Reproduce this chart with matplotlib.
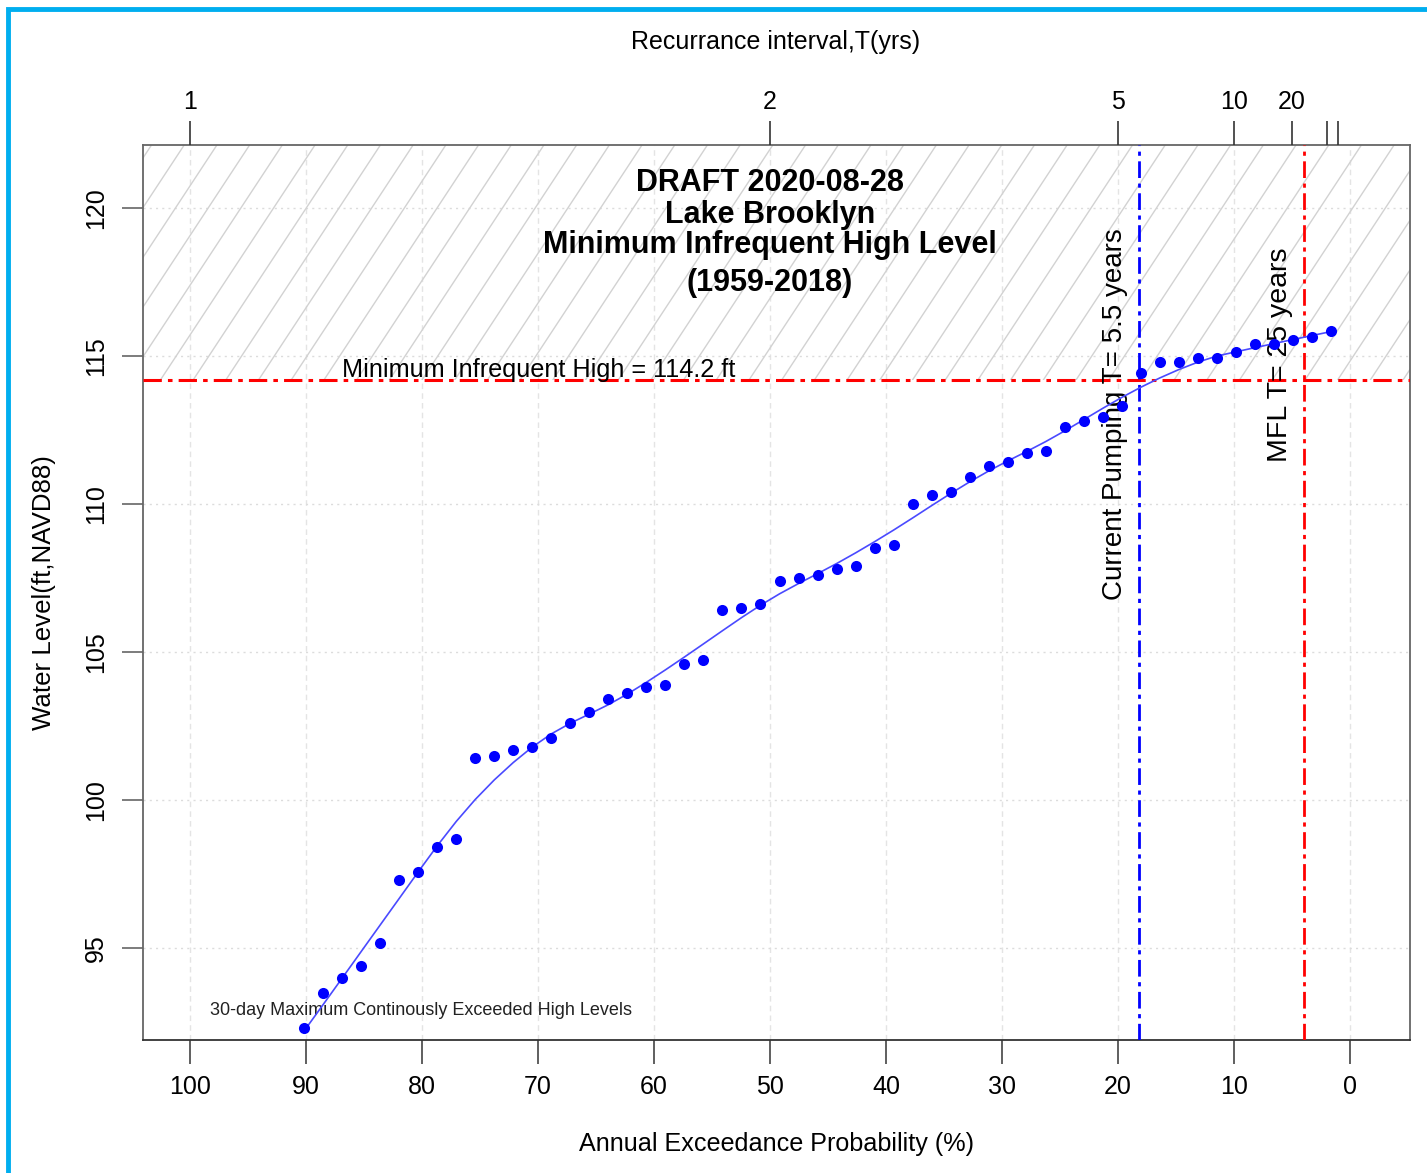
import numpy as np
import matplotlib
matplotlib.use("Agg")
import matplotlib.pyplot as plt
from matplotlib.patches import Rectangle
from matplotlib.collections import LineCollection

plt.rcParams['font.family'] = ['Liberation Sans', 'DejaVu Sans']

# 30-day maximum continuously exceeded high levels, ranked (highest first), 1959-2018
n_years = 60
rank = np.arange(1, 56)
level = [115.85, 115.63, 115.54, 115.39, 115.39, 115.12, 114.94, 114.94, 114.81, 114.81,
         114.44, 113.32, 112.93, 112.80, 112.61, 111.80, 111.71, 111.43, 111.29, 110.90,
         110.39, 110.31, 110.00, 108.61, 108.50, 107.91, 107.79, 107.60, 107.51, 107.40,
         106.61, 106.48, 106.42, 104.72, 104.59, 103.89, 103.83, 103.60, 103.41, 102.98,
         102.59, 102.10, 101.80, 101.69, 101.49, 101.41, 98.67, 98.40, 97.58, 97.30,
         95.16, 94.39, 93.98, 93.47, 92.29]

mfih_level = 114.2
current_T = 5.5
mfl_T = 25
top_T = [1, 2, 5, 10, 20, 50, 100]
top_labels = ['1', '2', '5', '10', '20', '', '']
x_ticks = [100, 90, 80, 70, 60, 50, 40, 30, 20, 10, 0]
y_ticks = [95, 100, 105, 110, 115, 120]
title_lines = ['DRAFT 2020-08-28', 'Lake Brooklyn', 'Minimum Infrequent High Level', '(1959-2018)']


def lowess(x, y, frac=0.3):
    x = np.asarray(x, float)
    y = np.asarray(y, float)
    k = int(np.ceil(frac * len(x)))
    fit = np.empty_like(y)
    for i, xi in enumerate(x):
        d = np.abs(x - xi)
        h = np.sort(d)[k - 1]
        w = np.clip(1 - (d / h) ** 3, 0, None) ** 3
        A = np.vstack([np.ones_like(x), x - xi]).T
        W = np.diag(w)
        beta = np.linalg.lstsq(A.T @ W @ A, A.T @ W @ y, rcond=None)[0]
        fit[i] = beta[0]
    return fit


prob = 100 * rank / (n_years + 1)
smooth = lowess(prob, level, frac=0.25)

xlim = (104.05, -5.17)
ylim = (91.89, 122.13)

fig = plt.figure(figsize=(14.27, 11.73), dpi=100)
ax = fig.add_axes([143 / 1427, 1 - 1040 / 1173, 1267 / 1427, 895 / 1173])
ax.set_xlim(*xlim)
ax.set_ylim(*ylim)

# grid
for xv in x_ticks:
    ax.axvline(xv, color='#e4e4e4', lw=1, ls=(0, (4, 3)), zorder=0)
for yv in y_ticks:
    ax.axhline(yv, color='#dcdcdc', lw=1, ls=(0, (1.5, 3)), zorder=0)

# hatched zone above the minimum infrequent high level
clip = Rectangle((xlim[0], mfih_level), xlim[1] - xlim[0], ylim[1] - mfih_level,
                 transform=ax.transData, facecolor='none', edgecolor='none')
ax.add_patch(clip)
aspect = 895 / 1267
slope = 1.52
sp = 32.7 / 1267
starts = np.arange(-1.0, 1.2, sp)
segs = [[(s, 0), (s + aspect / slope, 1)] for s in starts]
lc = LineCollection(segs, transform=ax.transAxes, colors='#d2d2d2', linewidths=1, zorder=1)
ax.add_collection(lc)
lc.set_clip_path(clip)

# reference lines
ax.axhline(mfih_level, color='red', lw=2.2, ls=(0, (6, 2, 1.5, 2)), zorder=3)
ax.axvline(100 / current_T, color='blue', lw=2.0, ls=(0, (6, 2, 1.5, 2)), zorder=3)
ax.axvline(100 / mfl_T, color='red', lw=2.0, ls=(0, (6, 2, 1.5, 2)), zorder=3)

# data
ax.plot(prob, smooth, color='#4a4aff', lw=1.2, zorder=4)
ax.plot(prob, level, 'o', color='blue', ms=8, mec='none', zorder=5)

# texts
ys = [120.84, 119.76, 118.75, 117.47]
for line, yv in zip(title_lines, ys):
    ax.text(50, yv, line, ha='center', va='center', fontsize=22, fontweight='bold')
ax.text(86.9, 114.53, 'Minimum Infrequent High = 114.2 ft', ha='left', va='center', fontsize=18.2)
ax.text(20.26, 113.04, 'Current Pumping T= 5.5 years', rotation=90, ha='center', va='center', fontsize=20)
ax.text(6.03, 115.03, 'MFL T= 25 years', rotation=90, ha='center', va='center', fontsize=20.5)
ax.text(98.28, 92.87, '30-day Maximum Continously Exceeded High Levels', ha='left', va='center',
        fontsize=13, color='#222222')

# axes
ax.set_xticks(x_ticks)
ax.set_xticklabels([str(v) for v in x_ticks])
ax.set_yticks(y_ticks)
ax.set_yticklabels([str(v) for v in y_ticks], rotation=90, va='center')
ax.tick_params(axis='x', direction='out', length=17, width=1.2, color='#444444', labelsize=18, pad=8)
ax.tick_params(axis='y', direction='out', length=15, width=1.2, color='#666666', labelsize=18, pad=10)
for s in ax.spines.values():
    s.set_color('#666666')
    s.set_linewidth(1.3)
ax.spines['bottom'].set_color('#333333')
ax.set_xlabel('Annual Exceedance Probability (%)', fontsize=18.1, labelpad=24)
ax.set_ylabel('Water Level(ft,NAVD88)', fontsize=18.6, labelpad=20)

top = ax.twiny()
top.set_xlim(ax.get_xlim())
top.set_xticks([100 / t for t in top_T])
top.set_xticklabels(top_labels)
top.tick_params(axis='x', direction='out', length=17, width=1.2, color='#333333', labelsize=18, pad=5)
for s in top.spines.values():
    s.set_visible(False)
fig.text(776 / 1427, 1 - 42 / 1173, 'Recurrance interval,T(yrs)', ha='center', va='center', fontsize=18)

# image frame
fig.patches.append(Rectangle((8 / 1427, -0.1), 1.2, 1.1 - 9 / 1173, transform=fig.transFigure,
                             fill=False, edgecolor='#00aeef', lw=3.5, clip_on=False))

fig.savefig('out.png', dpi=100)
